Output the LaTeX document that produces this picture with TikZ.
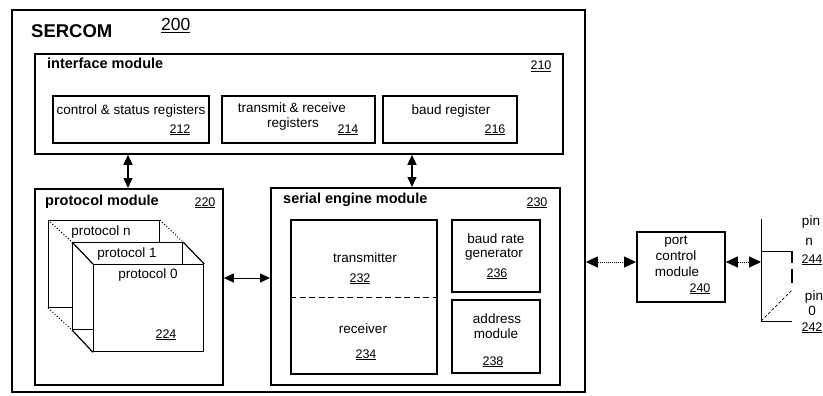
\documentclass[tikz,border=0pt]{standalone}
\usepackage{fontspec}
\setmainfont{Liberation Sans}
\usetikzlibrary{arrows.meta, positioning, calc}

\tikzset{
  box/.style 2 args={draw, line width=1.8pt, anchor=north west, inner sep=0pt,
    minimum width=#1, minimum height=#2},
  card/.style 2 args={draw, fill=white, line width=1pt, anchor=north west, inner sep=0pt,
    minimum width=#1, minimum height=#2},
  lbl/.style={anchor=base, inner sep=0pt, font=\fontsize{13.5}{15}\selectfont},
  num/.style={anchor=base, inner sep=0pt, font=\fontsize{12.5}{14}\selectfont},
  head/.style={anchor=base west, inner sep=0pt, font=\fontsize{14.5}{16}\selectfont\bfseries},
  biarrow/.style={{Triangle[length=10pt,width=9pt]}-{Triangle[length=10pt,width=9pt]}},
  portarrow/.style={{Triangle[length=12pt,width=11pt]}-{Triangle[length=12pt,width=11pt]},
    densely dotted, line width=1pt},
}

\begin{document}
\begin{tikzpicture}[x=1pt, y=-1pt]
  \useasboundingbox (0,0) rectangle (823,396);
  % ---- SERCOM ----
  \node[box={573}{382}] (sercom) at (11,9) {};
  \node[anchor=base west, inner sep=0pt, font=\fontsize{18.5}{20}\selectfont\bfseries] at (31,38) {SERCOM};
  \node[num, anchor=base west, font=\fontsize{17.5}{19}\selectfont] at (161,31) {\underline{200}};
  % ---- interface module ----
  \node[box={528}{100}] (ifm) at (34,53) {};
  \node[head] at (47,69) {interface module};
  \node[num] at (541,70) {\underline{210}};
  \node[box={156}{47}] (csr) at (52,95) {};
  \node[lbl] at (131,115) {control \& status registers};
  \node[num] at (180,133) {\underline{212}};
  \node[box={153}{47}] (trr) at (221,95) {};
  \node[lbl] at (292,113) {transmit \& receive};
  \node[lbl] at (293,128) {registers};
  \node[num] at (348,133) {\underline{214}};
  \node[box={134}{47}] (baudreg) at (382,95) {};
  \node[lbl] at (451,115) {baud register};
  \node[num] at (495,133) {\underline{216}};
  % ---- protocol module ----
  \node[box={188}{196}] (pm) at (34,188) {};
  \node[head] at (45,205) {protocol module};
  \node[num] at (205,206) {\underline{220}};
  \node[card={111}{87}, line width=0.9pt] (protn) at (48,220) {};
  \node[card={110}{87}] (prot1) at (72,242) {};
  \node[card={110}{87}, line width=1.3pt] (prot0) at (93,264) {};
  \draw[dotted, line width=1pt] (protn.north west) -- (prot1.north west);
  \draw[dotted, line width=1pt] (protn.north east) -- (prot1.north east);
  \draw[dotted, line width=1pt] (protn.south west) -- (prot1.south west);
  \draw[line width=1.2pt] (prot1.north west) -- (prot0.north west);
  \draw[line width=1.2pt] (prot1.north east) -- (prot0.north east);
  \draw[line width=1.2pt] (prot1.south west) -- (prot0.south west);
  \node[lbl] at (101,235) {protocol n};
  \node[lbl] at (127,257) {protocol 1};
  \node[lbl] at (148,278) {protocol 0};
  \node[num] at (166,338) {\underline{224}};
  % ---- serial engine module ----
  \node[box={289}{197}] (sem) at (270,187) {};
  \node[head] at (283,204) {serial engine module};
  \node[num] at (537,206) {\underline{230}};
  \node[box={146}{154}] (txrx) at (290,219) {};
  \draw[dashed, dash pattern=on 6pt off 3.5pt, line width=1pt]
    (txrx.west |- 0,297) -- (txrx.east |- 0,297);
  \node[lbl] at (365,262) {transmitter};
  \node[num] at (360,282) {\underline{232}};
  \node[lbl] at (363,333) {receiver};
  \node[num] at (366,358) {\underline{234}};
  \node[box={88}{72}] (brg) at (451,219) {};
  \node[lbl] at (496,243) {baud rate};
  \node[lbl] at (494,257) {generator};
  \node[num] at (497,277) {\underline{236}};
  \node[box={88}{73}] (addr) at (451,299) {};
  \node[lbl] at (497,323) {address};
  \node[lbl] at (496,338) {module};
  \node[num] at (493,365) {\underline{238}};
  % ---- connectors inside SERCOM ----
  \draw[biarrow, line width=1.5pt] (ifm.south -| 128,0) -- (pm.north -| 128,0);
  \draw[biarrow, line width=1.5pt] (ifm.south -| 412,0) -- (sem.north -| 412,0);
  \draw[biarrow, line width=1pt] (pm.east |- 0,278) -- (sem.west |- 0,278);
  % ---- port control module ----
  \node[box={88}{70}] (pcm) at (636,231) {};
  \node[lbl] at (676,244) {port};
  \node[lbl] at (676,260) {control};
  \node[lbl] at (677,276) {module};
  \node[num] at (700,292) {\underline{240}};
  \coordinate (pinbar) at (761,262);
  \draw[portarrow] (sercom.east |- pinbar) -- (pcm.west |- pinbar);
  \draw[portarrow] (pcm.east |- pinbar) -- (pinbar);
  % ---- pins ----
  \draw[line width=0.9pt] (761,219) -- (761,321) -- (792,321);
  \draw[line width=0.9pt] (761,251) -- (792,251);
  \draw[line width=1.8pt] (792,251) -- (792,263) (792,269) -- (792,283);
  \draw[densely dashed, line width=0.7pt] (761,321) -- (792,290);
  \node[lbl] at (811,225) {pin};
  \node[lbl] at (809,245) {n};
  \node[num] at (812,263) {\underline{244}};
  \node[lbl] at (814,300) {pin};
  \node[lbl] at (812,315) {0};
  \node[num] at (812,331) {\underline{242}};
\end{tikzpicture}
\end{document}
